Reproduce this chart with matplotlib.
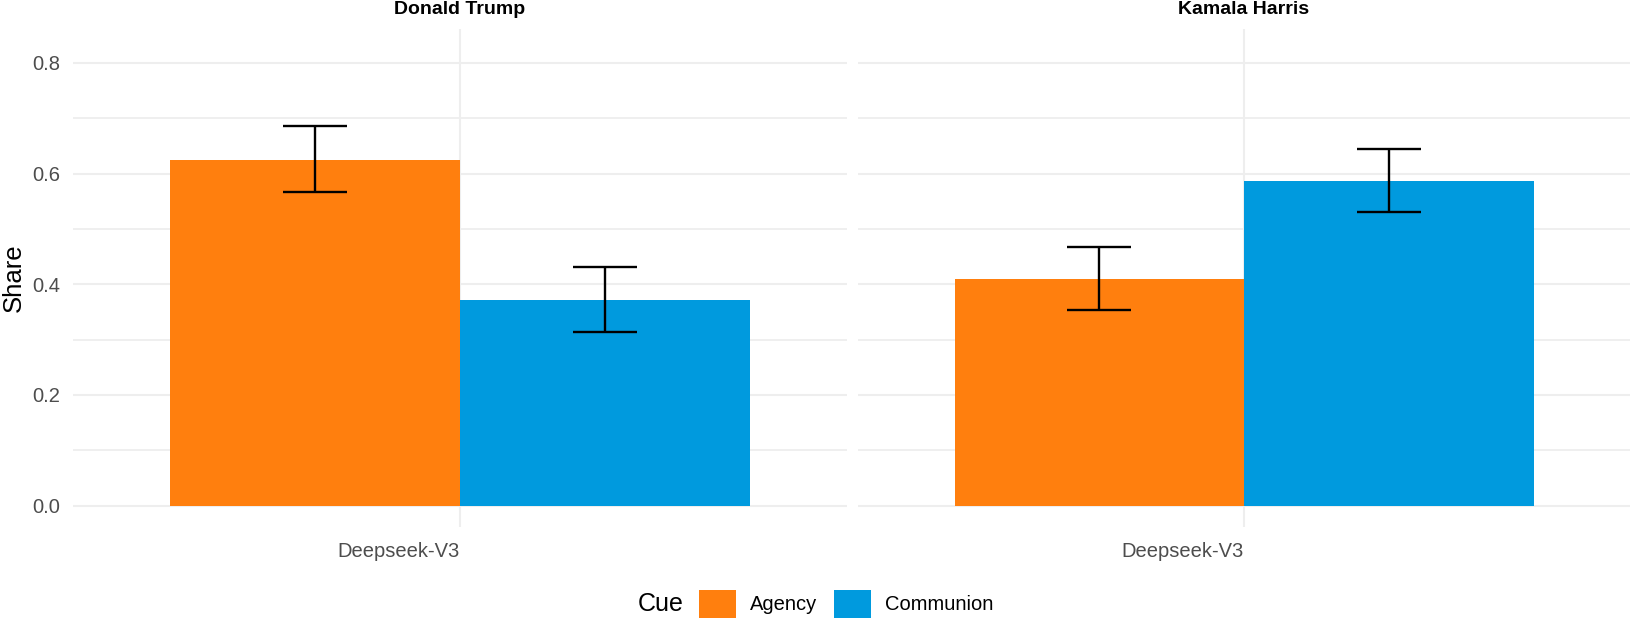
import matplotlib
matplotlib.use("Agg")
import matplotlib.pyplot as plt
from matplotlib.patches import Patch
import numpy as np

plt.rcParams['font.family'] = ['Liberation Sans', 'DejaVu Sans']

# ---- data ----
candidates = ["Donald Trump", "Kamala Harris"]
model_labels = ["Deepseek-V3"]
cues = ["Agency", "Communion"]
share_trump = [0.625, 0.372]
share_harris = [0.409, 0.587]
lower_trump = [0.566, 0.313]
upper_trump = [0.685, 0.431]
lower_harris = [0.353, 0.531]
upper_harris = [0.468, 0.645]
cue_colors = ["#FF7F0E", "#009ADE"]

shares = [share_trump, share_harris]
lowers = [lower_trump, lower_harris]
uppers = [upper_trump, upper_harris]

W, H = 1634, 626
fig = plt.figure(figsize=(W / 100, H / 100), dpi=100)

panels = [(73, 774), (858, 772)]
top_px, bot_px = 29, 527

dodge = 0.9
bar_w = dodge / len(cues)
grid_c = "#EEEEEE"

for i, cand in enumerate(candidates):
    x0, pw = panels[i]
    ax = fig.add_axes([x0 / W, (H - bot_px) / H, pw / W, (bot_px - top_px) / H])
    xs = np.arange(1, len(model_labels) + 1)
    for j, cue in enumerate(cues):
        xpos = xs - dodge / 2 + bar_w * (j + 0.5)
        val = shares[i][j]
        lo, hi = lowers[i][j], uppers[i][j]
        ax.bar(xpos, val, width=bar_w, color=cue_colors[j], zorder=2, linewidth=0)
        ax.errorbar(xpos, val, yerr=[[val - lo], [hi - val]], fmt='none',
                    ecolor='black', elinewidth=1.7, capsize=23, capthick=1.7, zorder=3)
    ax.set_xlim(0.4, len(model_labels) + 0.6)
    ax.set_ylim(-0.0385, 0.861)
    ax.set_yticks([0.0, 0.2, 0.4, 0.6, 0.8])
    ax.set_yticks([0.1, 0.3, 0.5, 0.7], minor=True)
    ax.set_xticks(xs)
    ax.set_xticklabels(model_labels, ha='right')
    ax.grid(True, which='major', color=grid_c, linewidth=1.5, zorder=0)
    ax.grid(True, which='minor', axis='y', color=grid_c, linewidth=1.3, zorder=0)
    ax.set_axisbelow(True)
    for s in ax.spines.values():
        s.set_visible(False)
    ax.tick_params(axis='both', which='both', length=0, labelsize=14.5, labelcolor='#4D4D4D')
    ax.tick_params(axis='y', pad=9)
    ax.tick_params(axis='x', pad=11)
    if i == 0:
        ax.set_yticklabels(["0.0", "0.2", "0.4", "0.6", "0.8"])
    else:
        ax.set_yticklabels([])
    ax.set_title(cand, fontsize=14, fontweight='bold', color='black', pad=11)

fig.text(14 / W, (H - 278) / H, "Share", rotation=90, fontsize=18.5, color='black',
         ha='center', va='center')

# legend
fig.text(638 / W, (H - 604) / H, "Cue", fontsize=18, va='center', ha='left', color='black')
handles = [Patch(facecolor=c, edgecolor='none') for c in cue_colors]
leg = fig.legend(handles, cues, loc='center left', bbox_to_anchor=(699 / W, (H - 604) / H),
                 ncol=2, frameon=False, fontsize=14.5, handlelength=1.85, handleheight=1.8,
                 handletextpad=0.7, columnspacing=0.8, borderpad=0, borderaxespad=0)

fig.savefig("out.png", dpi=100, facecolor='white')
